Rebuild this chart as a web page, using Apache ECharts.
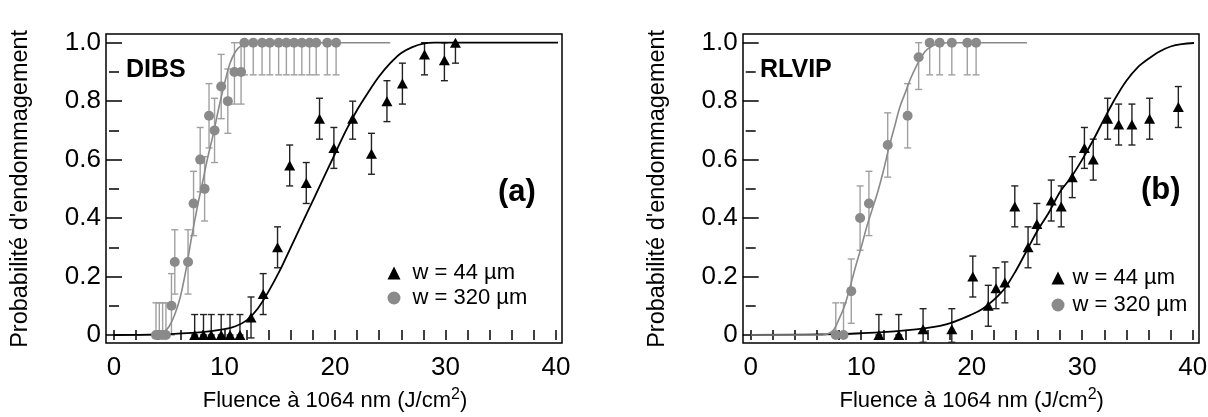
<!DOCTYPE html>
<html>
<head>
<meta charset="utf-8">
<script src="https://cdn.jsdelivr.net/npm/echarts@6/dist/echarts.min.js"></script>
<style>
html, body { margin: 0; padding: 0; background: #fff; }
#chart { width: 1208px; height: 417px; }
</style>
</head>
<body>
<div id="chart"></div>
<script>
// points: [fluence, probability, bar low, bar high]
var dibs44 = [
  [7.3, 0, 0, 0.07], [8.1, 0, 0, 0.07], [8.8, 0, 0, 0.07], [9.7, 0, 0, 0.07],
  [10.5, 0, 0, 0.07], [11.4, 0, 0, 0.07], [12.4, 0.06, -0.01, 0.13], [13.5, 0.14, 0.07, 0.21],
  [14.8, 0.30, 0.23, 0.37], [15.9, 0.58, 0.51, 0.65], [17.4, 0.52, 0.45, 0.59], [18.6, 0.74, 0.67, 0.81],
  [19.9, 0.64, 0.57, 0.71], [21.6, 0.74, 0.67, 0.80], [23.3, 0.62, 0.55, 0.69], [24.7, 0.80, 0.73, 0.87],
  [26.1, 0.86, 0.79, 0.93], [28.1, 0.96, 0.89, 1.0], [29.9, 0.94, 0.87, 1.0], [30.9, 1.0, 0.93, 1.0]
];
var dibs320 = [
  [3.8, 0, 0, 0.11], [4.1, 0, 0, 0.11], [4.4, 0, 0, 0.11], [4.7, 0, 0, 0.11],
  [5.2, 0.10, 0, 0.21], [5.5, 0.25, 0.14, 0.36], [6.7, 0.25, 0.14, 0.36], [7.2, 0.45, 0.34, 0.56],
  [7.8, 0.60, 0.49, 0.71], [8.2, 0.50, 0.39, 0.61], [8.6, 0.75, 0.64, 0.86], [9.1, 0.70, 0.59, 0.81],
  [9.7, 0.85, 0.74, 0.96], [10.3, 0.80, 0.69, 0.91], [10.9, 0.90, 0.79, 1.0], [11.5, 0.90, 0.79, 1.0],
  [11.8, 1, 0.89, 1], [12.6, 1, 0.89, 1], [13.4, 1, 0.89, 1], [14.1, 1, 0.89, 1],
  [14.9, 1, 0.89, 1], [15.6, 1, 0.89, 1], [16.3, 1, 0.89, 1], [17.0, 1, 0.89, 1],
  [17.7, 1, 0.89, 1], [18.3, 1, 0.89, 1], [19.3, 1, 0.89, 1], [20.1, 1, 0.89, 1]
];
var rlvip44 = [
  [11.6, 0, 0, 0.07], [13.4, 0, 0, 0.07], [15.6, 0.02, -0.025, 0.09], [18.2, 0.02, -0.025, 0.09],
  [20.1, 0.20, 0.13, 0.27], [21.5, 0.10, 0.03, 0.17], [22.2, 0.16, 0.09, 0.23], [23.0, 0.18, 0.11, 0.25],
  [23.9, 0.44, 0.37, 0.51], [25.1, 0.30, 0.23, 0.37], [25.9, 0.38, 0.31, 0.45], [27.2, 0.46, 0.39, 0.53],
  [28.1, 0.44, 0.37, 0.51], [29.1, 0.54, 0.47, 0.61], [30.2, 0.64, 0.57, 0.71], [31.0, 0.60, 0.53, 0.67],
  [32.3, 0.74, 0.67, 0.81], [33.3, 0.72, 0.65, 0.79], [34.5, 0.72, 0.65, 0.79], [36.1, 0.74, 0.67, 0.81],
  [38.7, 0.78, 0.71, 0.85]
];
var rlvip320 = [
  [7.7, 0, 0, 0.11], [8.4, 0, 0, 0.11], [9.1, 0.15, 0.04, 0.26], [9.9, 0.40, 0.29, 0.51],
  [10.7, 0.45, 0.34, 0.56], [12.4, 0.65, 0.54, 0.76], [14.2, 0.75, 0.64, 0.86], [15.2, 0.95, 0.84, 1.0],
  [16.2, 1, 0.89, 1], [17.1, 1, 0.89, 1], [18.2, 1, 0.89, 1], [19.6, 1, 0.89, 1], [20.4, 1, 0.89, 1]
];

// fitted curves, points
var dibsFit44 = [
  [0, 0], [4, 0.002], [8, 0.01], [10, 0.02], [11, 0.03], [12, 0.05], [13, 0.09], [14, 0.15],
  [15, 0.22], [16, 0.30], [17, 0.38], [18, 0.46], [19, 0.54], [20, 0.62], [21, 0.70], [22, 0.77],
  [23, 0.83], [24, 0.885], [25, 0.93], [26, 0.965], [27, 0.985], [28, 0.997], [29, 1.0], [40.4, 1.0]
];
var dibsFit320 = [
  [0, 0], [3.5, 0], [4.5, 0.01], [5, 0.03], [5.5, 0.07], [6, 0.13], [6.5, 0.22], [7, 0.33],
  [7.5, 0.43], [8, 0.52], [8.5, 0.61], [9, 0.69], [9.5, 0.78], [10, 0.86], [10.5, 0.93], [11, 0.97],
  [11.5, 0.99], [12, 1.0], [25, 1.0]
];
var rlvipFit44 = [
  [0, 0], [8, 0.003], [10, 0.006], [12, 0.01], [14, 0.016], [16, 0.024], [18, 0.04], [20, 0.07],
  [21, 0.09], [22, 0.12], [23, 0.16], [24, 0.22], [25, 0.29], [26, 0.36], [27, 0.42], [28, 0.49],
  [29, 0.54], [30, 0.60], [31, 0.667], [32, 0.74], [33, 0.81], [34, 0.87], [35, 0.915], [36, 0.945],
  [37, 0.97], [38, 0.987], [39, 0.995], [40.5, 1.0]
];
var rlvipFit320 = [
  [0, 0], [6.5, 0], [7, 0.004], [7.5, 0.017], [8, 0.055], [8.5, 0.10], [9, 0.165], [9.5, 0.235],
  [10, 0.30], [10.5, 0.37], [11, 0.43], [11.5, 0.49], [12, 0.56], [12.5, 0.64], [13, 0.71], [13.5, 0.78],
  [14, 0.83], [14.5, 0.88], [15, 0.92], [15.5, 0.955], [16, 0.978], [17, 0.997], [18, 1.0], [25, 1.0]
];

var xTicks = { min: 0, max: 40, interval: 10 };
var yTicks = { min: 0, max: 1, interval: 0.2 };
var name44 = 'w = 44 µm';
var name320 = 'w = 320 µm';

var FONT = 'Liberation Sans, Arial, Helvetica, sans-serif';
var GRAY = '#8a8a8a';
var GRAY_BAR = '#a0a0a0';

var chart = echarts.init(document.getElementById('chart'));

function hiddenAxis(grid) {
  return { type: 'value', gridIndex: grid, show: false, min: 0, max: 1 };
}

function xAxisDef(grid, pos, offset, withLabels) {
  return {
    type: 'value', gridIndex: grid, position: pos, offset: offset,
    min: xTicks.min, max: xTicks.max, interval: xTicks.interval,
    axisLine: { show: false },
    axisTick: { show: true, inside: true, length: 5, lineStyle: { color: '#000', width: 1.5 } },
    minorTick: { show: true, splitNumber: 5, length: 5, lineStyle: { color: '#000', width: 1.5 } },
    splitLine: { show: false },
    axisLabel: { show: withLabels, margin: 12, color: '#000', fontSize: 26, fontFamily: FONT },
    name: withLabels ? '{t|Fluence à 1064 nm (J/cm}{s|2}{t|)}' : '',
    nameLocation: 'middle', nameGap: 44,
    nameTextStyle: {
      color: '#000', fontFamily: FONT,
      rich: {
        t: { fontSize: 22, color: '#000', fontFamily: FONT },
        s: { fontSize: 16, color: '#000', fontFamily: FONT, verticalAlign: 'top', padding: [0, 0, 12, 0] }
      }
    }
  };
}

function yAxisDef(grid, pos, offset, withLabels) {
  return {
    type: 'value', gridIndex: grid, position: pos, offset: offset,
    min: yTicks.min, max: yTicks.max, interval: yTicks.interval,
    axisLine: { show: false },
    axisTick: { show: true, inside: true, length: 8, lineStyle: { color: '#000', width: 1.5 } },
    minorTick: { show: true, splitNumber: 2, length: 5, lineStyle: { color: '#000', width: 1.5 } },
    splitLine: { show: false },
    axisLabel: {
      show: withLabels, margin: 5, color: '#000', fontSize: 26, fontFamily: FONT,
      formatter: function (v) { return v === 0 ? '0' : v.toFixed(1); }
    },
    name: withLabels ? "Probabilité d'endommagement" : '',
    nameLocation: 'middle', nameGap: 73,
    nameTextStyle: { color: '#000', fontSize: 23.5, fontFamily: FONT }
  };
}

function errorBars(axis, data, color, z) {
  return {
    type: 'custom', xAxisIndex: axis, yAxisIndex: axis, z: z, silent: true, clip: false,
    data: data.map(function (d) { return [d[0], d[2], d[3]]; }),
    encode: { x: 0, y: [1, 2] },
    renderItem: function (params, api) {
      var lo = api.coord([api.value(0), api.value(1)]);
      var hi = api.coord([api.value(0), api.value(2)]);
      var w = 3.5;
      var st = { stroke: color, lineWidth: 1.4, fill: null };
      return {
        type: 'group',
        children: [
          { type: 'line', shape: { x1: lo[0], y1: lo[1], x2: hi[0], y2: hi[1] }, style: st },
          { type: 'line', shape: { x1: lo[0] - w, y1: lo[1], x2: lo[0] + w, y2: lo[1] }, style: st },
          { type: 'line', shape: { x1: hi[0] - w, y1: hi[1], x2: hi[0] + w, y2: hi[1] }, style: st }
        ]
      };
    }
  };
}

function fitLine(axis, data, color, width, z) {
  return {
    type: 'line', xAxisIndex: axis, yAxisIndex: axis, z: z, silent: true, clip: false,
    data: data, smooth: 0.35, symbol: 'none', showSymbol: false,
    lineStyle: { color: color, width: width }
  };
}

function points(axis, data, name, symbol, size, color, z) {
  return {
    type: 'scatter', name: name, xAxisIndex: axis, yAxisIndex: axis, z: z, silent: true, clip: false,
    data: data.map(function (d) { return [d[0], d[1]]; }),
    symbol: symbol, symbolSize: size,
    itemStyle: { color: color, opacity: 1 }
  };
}

function legendDef(left, top, gap, pad) {
  return {
    orient: 'vertical', left: left, top: top, padding: 0,
    itemWidth: 13, itemHeight: 13, itemGap: gap, selectedMode: false,
    data: [{ name: name44, icon: 'triangle' }, { name: name320, icon: 'circle' }],
    textStyle: { color: '#000', fontSize: 22, lineHeight: 22, fontFamily: FONT, padding: [0, 0, 0, pad] }
  };
}

function label(text, left, top, size) {
  return {
    text: text, left: left, top: top, padding: 0,
    textStyle: { color: '#000', fontSize: size, fontWeight: 'bold', fontFamily: FONT }
  };
}

var option = {
  animation: false,
  backgroundColor: '#fff',
  title: [
    label('DIBS', 126, 58, 25),
    label('(a)', 498, 177, 31),
    label('RLVIP', 760, 58, 25),
    label('(b)', 1141, 175, 31)
  ],
  legend: [
    legendDef(387.5, 262, 3, 7),
    legendDef(1051.5, 267, 5, 3)
  ],
  grid: [
    { left: 106, top: 34, width: 456, height: 309, show: true, borderColor: '#000', borderWidth: 1.5, backgroundColor: 'transparent', outerBoundsMode: 'none' },
    { left: 114, top: 42.7, width: 442, height: 292.3, outerBoundsMode: 'none' },
    { left: 743, top: 34, width: 456, height: 309, show: true, borderColor: '#000', borderWidth: 1.5, backgroundColor: 'transparent', outerBoundsMode: 'none' },
    { left: 750.7, top: 42.7, width: 442, height: 292.3, outerBoundsMode: 'none' }
  ],
  xAxis: [
    hiddenAxis(0),
    xAxisDef(1, 'bottom', 8, true),
    xAxisDef(1, 'top', 8.7, false),
    hiddenAxis(2),
    xAxisDef(3, 'bottom', 8, true),
    xAxisDef(3, 'top', 8.7, false)
  ],
  yAxis: [
    hiddenAxis(0),
    yAxisDef(1, 'left', 8, true),
    yAxisDef(1, 'right', 5.7, false),
    hiddenAxis(2),
    yAxisDef(3, 'left', 8, true),
    yAxisDef(3, 'right', 6.6, false)
  ],
  series: [
    // DIBS
    errorBars(1, dibs320, GRAY_BAR, 2),
    errorBars(1, dibs44, '#222', 2),
    fitLine(1, dibsFit320, GRAY, 1.6, 3),
    fitLine(1, dibsFit44, '#000', 1.8, 4),
    points(1, dibs320, name320, 'circle', 10, GRAY, 5),
    points(1, dibs44, name44, 'triangle', [11, 10], '#000', 6),
    // RLVIP
    errorBars(4, rlvip320, GRAY_BAR, 2),
    errorBars(4, rlvip44, '#222', 2),
    fitLine(4, rlvipFit44, '#000', 1.8, 3),
    fitLine(4, rlvipFit320, GRAY, 1.6, 4),
    points(4, rlvip320, name320, 'circle', 10, GRAY, 5),
    points(4, rlvip44, name44, 'triangle', [11, 10], '#000', 6)
  ]
};

chart.setOption(option);
</script>
</body>
</html>
